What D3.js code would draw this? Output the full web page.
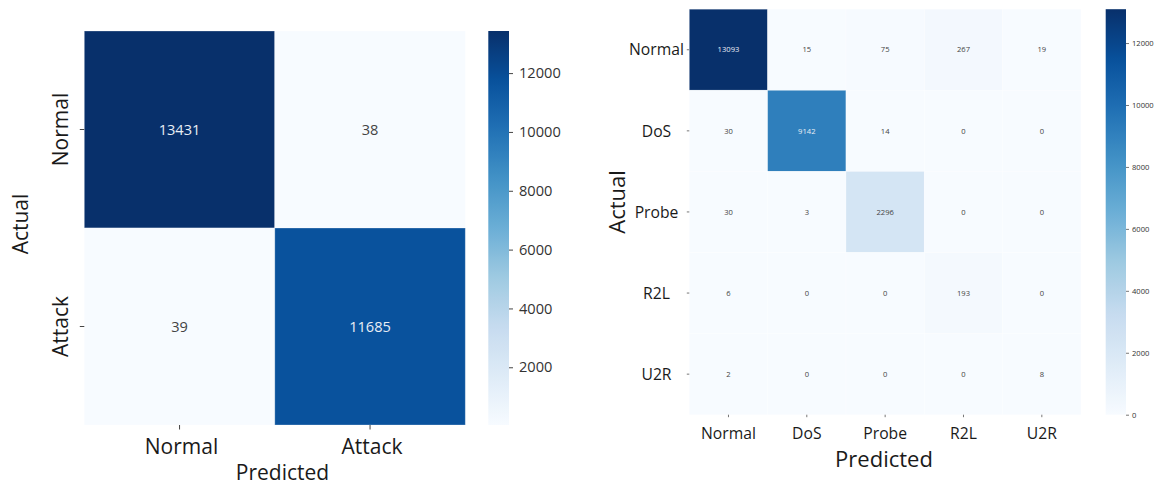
<!DOCTYPE html>
<html>
<head>
<meta charset="utf-8">
<script src="https://cdn.jsdelivr.net/npm/d3@7"></script>
<style>
  html, body { margin: 0; padding: 0; background: #ffffff; }
  svg { display: block; font-family: "Open Sans", "Noto Sans", sans-serif; }
</style>
</head>
<body>
<svg id="chart" width="1158" height="487"></svg>
<script>
// ---- Binary classifier confusion matrix ----
const binaryClasses = ["Normal", "Attack"];
const binaryRows = [
  [13431, 38],
  [39, 11685]
];
const binaryColorbarTicks = [2000, 4000, 6000, 8000, 10000, 12000];

// ---- Multi-class classifier confusion matrix ----
const multiClasses = ["Normal", "DoS", "Probe", "R2L", "U2R"];
const multiRows = [
  [13093, 15, 75, 267, 19],
  [30, 9142, 14, 0, 0],
  [30, 3, 2296, 0, 0],
  [6, 0, 0, 193, 0],
  [2, 0, 0, 0, 8]
];
const multiColorbarTicks = [0, 2000, 4000, 6000, 8000, 10000, 12000];

// Sequential "Blues" ramp, interpolated linearly between its nine anchors
const bluesAnchors = ["#f7fbff", "#deebf7", "#c6dbef", "#9ecae1", "#6baed6",
                      "#4292c6", "#2171b5", "#08519c", "#08306b"];
const blues = d3.piecewise(d3.interpolateRgb, bluesAnchors);

const svg = d3.select("#chart");
const defs = svg.append("defs");

function luminance(c) {
  const rgb = d3.rgb(c);
  const f = v => { v /= 255; return v <= 0.03928 ? v / 12.92 : Math.pow((v + 0.055) / 1.055, 2.4); };
  return 0.2126 * f(rgb.r) + 0.7152 * f(rgb.g) + 0.0722 * f(rgb.b);
}

function drawPanel(p) {
  const g = svg.append("g");
  const n = p.classes.length;
  const values = p.rows.flat();
  const vmin = p.vmin !== undefined ? p.vmin : d3.min(values);
  const vmax = d3.max(values);

  const x = d3.scaleBand().domain(p.classes).range([p.left, p.right]);
  const y = d3.scaleBand().domain(p.classes).range([p.top, p.bottom]);
  const norm = d3.scaleLinear().domain([vmin, vmax]).range([0, 1]).clamp(true);
  const color = v => blues(norm(v));

  const cells = [];
  p.rows.forEach((row, i) => row.forEach((v, j) => cells.push({ actual: p.classes[i], predicted: p.classes[j], v })));

  g.selectAll("rect.cell").data(cells).join("rect")
    .attr("class", "cell")
    .attr("x", d => x(d.predicted))
    .attr("y", d => y(d.actual))
    .attr("width", x.bandwidth())
    .attr("height", y.bandwidth())
    .attr("fill", d => color(d.v))
    .attr("stroke", "rgba(255,255,255,0.35)")
    .attr("stroke-width", 0.8);

  g.selectAll("text.annot").data(cells).join("text")
    .attr("class", "annot")
    .attr("x", d => x(d.predicted) + x.bandwidth() / 2)
    .attr("y", d => y(d.actual) + y.bandwidth() / 2)
    .attr("dy", "0.36em")
    .attr("text-anchor", "middle")
    .attr("font-size", p.annotSize)
    .attr("fill", d => luminance(color(d.v)) > 0.408 ? p.darkText : p.lightText)
    .text(d => d.v);

  // Bottom axis (predicted)
  const xAxis = g.append("g")
    .attr("transform", `translate(0,${p.bottom})`)
    .call(d3.axisBottom(x).tickSize(p.tickLen).tickPadding(0));
  xAxis.select(".domain").remove();
  xAxis.selectAll(".tick line").attr("stroke", p.tickColor).attr("stroke-width", 1);
  xAxis.selectAll(".tick text").remove();
  g.selectAll("text.xlab").data(p.classes).join("text")
    .attr("class", "xlab")
    .attr("x", d => x(d) + x.bandwidth() / 2 + (p.xLabelShift || 0))
    .attr("y", p.xLabelBaseline)
    .attr("text-anchor", "middle")
    .attr("font-size", p.tickFont)
    .attr("fill", "#1a1a1a")
    .text(d => d);

  // Left axis (actual)
  const yAxis = g.append("g")
    .attr("transform", `translate(${p.left},0)`)
    .call(d3.axisLeft(y).tickSize(p.tickLen).tickPadding(0));
  yAxis.select(".domain").remove();
  yAxis.selectAll(".tick line").attr("stroke", p.tickColor).attr("stroke-width", 1);
  yAxis.selectAll(".tick text").remove();
  if (p.rotateYLabels) {
    g.selectAll("text.ylab").data(p.classes).join("text")
      .attr("class", "ylab")
      .attr("transform", d => `translate(${p.yLabelX},${y(d) + y.bandwidth() / 2}) rotate(-90)`)
      .attr("text-anchor", "middle")
      .attr("font-size", p.tickFont)
      .attr("fill", "#1a1a1a")
      .text(d => d);
  } else {
    g.selectAll("text.ylab").data(p.classes).join("text")
      .attr("class", "ylab")
      .attr("x", p.yLabelX)
      .attr("y", d => y(d) + y.bandwidth() / 2)
      .attr("dy", "0.36em")
      .attr("text-anchor", "middle")
      .attr("font-size", p.tickFont)
      .attr("fill", "#1a1a1a")
      .text(d => d);
  }

  // Axis titles
  g.append("text")
    .attr("x", p.xTitleX)
    .attr("y", p.xTitleBaseline)
    .attr("text-anchor", "middle")
    .attr("font-size", p.titleFont)
    .attr("fill", "#1a1a1a")
    .text("Predicted");
  g.append("text")
    .attr("transform", `translate(${p.yTitleX},${p.yTitleY}) rotate(-90)`)
    .attr("text-anchor", "middle")
    .attr("font-size", p.titleFont)
    .attr("fill", "#1a1a1a")
    .text("Actual");

  // Colorbar
  const gradId = "grad-" + p.id;
  const grad = defs.append("linearGradient")
    .attr("id", gradId)
    .attr("x1", 0).attr("y1", 1).attr("x2", 0).attr("y2", 0);
  d3.range(0, 1.0001, 0.02).forEach(t => {
    grad.append("stop").attr("offset", t).attr("stop-color", blues(t));
  });
  g.append("rect")
    .attr("x", p.cbLeft)
    .attr("y", p.top)
    .attr("width", p.cbWidth)
    .attr("height", p.bottom - p.top)
    .attr("fill", `url(#${gradId})`);

  const cbScale = d3.scaleLinear().domain([vmin, vmax]).range([p.bottom, p.top]);
  const cbAxis = g.append("g")
    .attr("transform", `translate(${p.cbLeft + p.cbWidth},0)`)
    .call(d3.axisRight(cbScale).tickValues(p.cbTicks).tickSize(p.cbTickLen).tickPadding(p.cbTickPad).tickFormat(d3.format("d")));
  cbAxis.select(".domain").remove();
  cbAxis.selectAll(".tick line").attr("stroke", p.tickColor);
  cbAxis.selectAll(".tick text")
    .attr("font-size", p.cbFont)
    .attr("font-family", "'Open Sans', 'Noto Sans', sans-serif")
    .attr("fill", "#333333");
}

drawPanel({
  id: "binary",
  classes: binaryClasses,
  rows: binaryRows,
  cbTicks: binaryColorbarTicks,
  left: 84.3, right: 465.3, top: 31, bottom: 425,
  annotSize: 14.6, darkText: "#444444", lightText: "#e9eef5",
  tickLen: 4.5, tickColor: "#444444", tickFont: 21,
  xLabelBaseline: 454, xLabelShift: 2,
  rotateYLabels: true, yLabelX: 68,
  titleFont: 21, xTitleX: 282.5, xTitleBaseline: 480,
  yTitleX: 28, yTitleY: 224,
  cbLeft: 488.3, cbWidth: 20.7, cbTickLen: 4, cbTickPad: 6, cbFont: 14.6
});

drawPanel({
  id: "multi",
  classes: multiClasses,
  rows: multiRows,
  vmin: 0,
  cbTicks: multiColorbarTicks,
  left: 689.3, right: 1081, top: 9.2, bottom: 414.7,
  annotSize: 7.6, darkText: "#444444", lightText: "#e9eef5",
  tickLen: 2.5, tickColor: "#777777", tickFont: 15.7,
  xLabelBaseline: 439.3, xLabelShift: 0,
  rotateYLabels: false, yLabelX: 656.5,
  titleFont: 22, xTitleX: 884, xTitleBaseline: 466.7,
  yTitleX: 625, yTitleY: 202,
  cbLeft: 1105.7, cbWidth: 20.3, cbTickLen: 3, cbTickPad: 3, cbFont: 7.6
});
</script>
</body>
</html>
